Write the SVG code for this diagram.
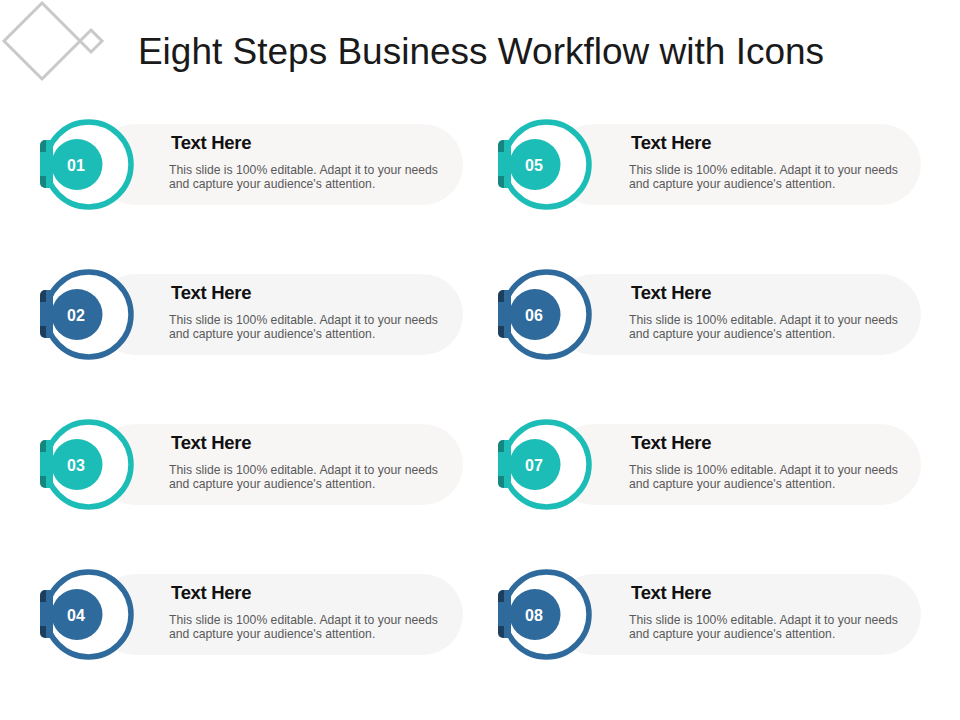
<svg xmlns="http://www.w3.org/2000/svg" width="960" height="720" viewBox="0 0 960 720">
<defs>
<style>
.title{font-family:"Liberation Sans",Arial,sans-serif;font-size:37px;fill:#1a1a1a}
.head{font-family:"Liberation Sans",Arial,sans-serif;font-size:18.5px;font-weight:bold;fill:#111;letter-spacing:-0.3px}
.body{font-family:"Liberation Sans",Arial,sans-serif;font-size:12.2px;fill:#595959}
.num{font-family:"Liberation Sans",Arial,sans-serif;font-size:16px;font-weight:bold;fill:#fff;text-anchor:middle}
.pillA{fill:#f8f5f5}
.pillB{fill:#f5f5f5}
.ringT{fill:#fff;stroke:#1cbdb6;stroke-width:5.5}
.fillT{fill:#1cbdb6}
.darkT{fill:#15857f}
.ringB{fill:#fff;stroke:#2f6a9c;stroke-width:5.5}
.fillB{fill:#2f6a9c}
.darkB{fill:#1d3e5c}
.logo{fill:none;stroke:#c9c9c9;stroke-width:3}
</style>
<g id="badgeT">
<circle class="ringT" cx="88.5" cy="164.5" r="42.5"/>
<rect class="darkT" x="40" y="140" width="12" height="48" rx="5"/>
<rect class="fillT" x="46" y="140" width="7" height="48"/>
<rect class="fillT" x="40" y="152" width="13" height="24"/>
<circle class="fillT" cx="77" cy="164.5" r="25.5"/>
</g>
<g id="badgeB">
<circle class="ringB" cx="88.5" cy="164.5" r="42.5"/>
<rect class="darkB" x="40" y="140" width="12" height="48" rx="5"/>
<rect class="fillB" x="46" y="140" width="7" height="48"/>
<rect class="fillB" x="40" y="152" width="13" height="24"/>
<circle class="fillB" cx="77" cy="164.5" r="25.5"/>
</g>
</defs>
<rect width="960" height="720" fill="#fff"/>
<g id="logo">
<polygon class="logo" points="42,3 80,41 42,79 4,41"/>
<polygon class="logo" points="91,30 102,41 91,52 80,41"/>
</g>
<text class="title" x="481" y="64" text-anchor="middle">Eight Steps Business Workflow with Icons</text>

<g id="step01">
<rect class="pillA" x="95" y="124" width="368" height="81" rx="40.5"/>
<use href="#badgeT"/>
<text class="num" x="76" y="171">01</text>
<text class="head" x="171" y="149">Text Here</text>
<text class="body" x="169" y="174">This slide is 100% editable. Adapt it to your needs</text>
<text class="body" x="169" y="188">and capture your audience's attention.</text>
</g>
<g id="step02">
<rect class="pillB" x="95" y="274" width="368" height="81" rx="40.5"/>
<use href="#badgeB" y="150"/>
<text class="num" x="76" y="321">02</text>
<text class="head" x="171" y="299">Text Here</text>
<text class="body" x="169" y="324">This slide is 100% editable. Adapt it to your needs</text>
<text class="body" x="169" y="338">and capture your audience's attention.</text>
</g>
<g id="step03">
<rect class="pillA" x="95" y="424" width="368" height="81" rx="40.5"/>
<use href="#badgeT" y="300"/>
<text class="num" x="76" y="471">03</text>
<text class="head" x="171" y="449">Text Here</text>
<text class="body" x="169" y="474">This slide is 100% editable. Adapt it to your needs</text>
<text class="body" x="169" y="488">and capture your audience's attention.</text>
</g>
<g id="step04">
<rect class="pillB" x="95" y="574" width="368" height="81" rx="40.5"/>
<use href="#badgeB" y="450"/>
<text class="num" x="76" y="621">04</text>
<text class="head" x="171" y="599">Text Here</text>
<text class="body" x="169" y="624">This slide is 100% editable. Adapt it to your needs</text>
<text class="body" x="169" y="638">and capture your audience's attention.</text>
</g>

<g id="step05">
<rect class="pillA" x="553" y="124" width="368" height="81" rx="40.5"/>
<use href="#badgeT" x="458"/>
<text class="num" x="534" y="171">05</text>
<text class="head" x="631" y="149">Text Here</text>
<text class="body" x="629" y="174">This slide is 100% editable. Adapt it to your needs</text>
<text class="body" x="629" y="188">and capture your audience's attention.</text>
</g>
<g id="step06">
<rect class="pillB" x="553" y="274" width="368" height="81" rx="40.5"/>
<use href="#badgeB" x="458" y="150"/>
<text class="num" x="534" y="321">06</text>
<text class="head" x="631" y="299">Text Here</text>
<text class="body" x="629" y="324">This slide is 100% editable. Adapt it to your needs</text>
<text class="body" x="629" y="338">and capture your audience's attention.</text>
</g>
<g id="step07">
<rect class="pillA" x="553" y="424" width="368" height="81" rx="40.5"/>
<use href="#badgeT" x="458" y="300"/>
<text class="num" x="534" y="471">07</text>
<text class="head" x="631" y="449">Text Here</text>
<text class="body" x="629" y="474">This slide is 100% editable. Adapt it to your needs</text>
<text class="body" x="629" y="488">and capture your audience's attention.</text>
</g>
<g id="step08">
<rect class="pillB" x="553" y="574" width="368" height="81" rx="40.5"/>
<use href="#badgeB" x="458" y="450"/>
<text class="num" x="534" y="621">08</text>
<text class="head" x="631" y="599">Text Here</text>
<text class="body" x="629" y="624">This slide is 100% editable. Adapt it to your needs</text>
<text class="body" x="629" y="638">and capture your audience's attention.</text>
</g>
<g id="connectors"/>
</svg>
